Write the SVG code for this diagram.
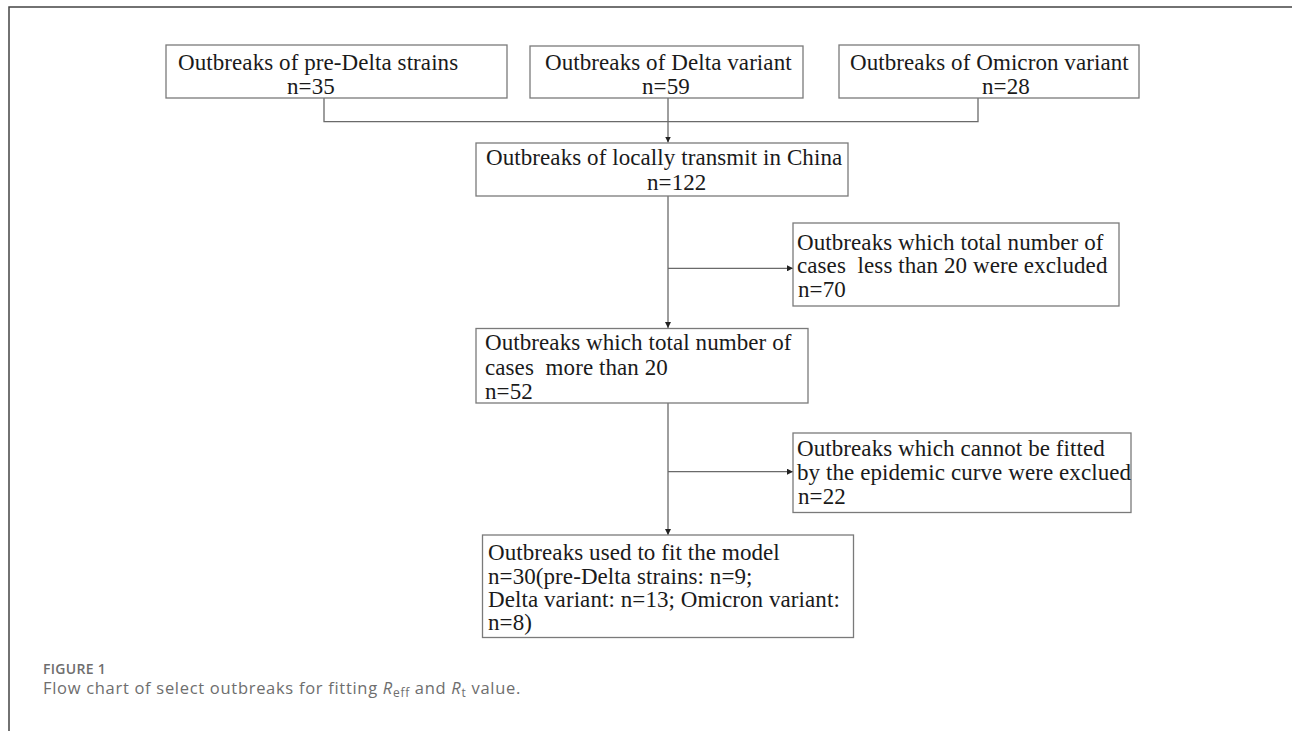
<svg xmlns="http://www.w3.org/2000/svg" width="1292" height="731" viewBox="0 0 1292 731">
<defs>
<style>
.box{fill:#fff;stroke:#7a7a7a;stroke-width:1.3}
.t{font-family:"Liberation Serif","Times New Roman",serif;font-size:23px;letter-spacing:0.08px;fill:#1a1a1a}
.c{fill:none;stroke:#6a6a6a;stroke-width:1.3}
.frame{fill:none;stroke:#444;stroke-width:1.5}
.cap{font-family:"Open Sans","Noto Sans",sans-serif;fill:#6e6e6e}
</style>
<marker id="ah" viewBox="0 0 8 8" refX="8" refY="4" markerWidth="6" markerHeight="6" markerUnits="userSpaceOnUse" orient="auto">
<path d="M0,0 L8,4 L0,8 z" fill="#222"/>
</marker>
</defs>
<rect width="1292" height="731" fill="#fff"/>
<path class="frame" d="M9,731 V7 H1292"/>

<g id="connectors">
<path class="c" d="M324,98 V121.7 H978 V98"/>
<path class="c" d="M668,98 V142.5" marker-end="url(#ah)"/>
<path class="c" d="M668,196 V328" marker-end="url(#ah)"/>
<path class="c" d="M668,268.3 H793" marker-end="url(#ah)"/>
<path class="c" d="M668,403 V535" marker-end="url(#ah)"/>
<path class="c" d="M668,471.7 H793" marker-end="url(#ah)"/>
</g>

<g id="n1">
<rect class="box" x="166" y="45" width="341" height="53"/>
<text class="t" x="178" y="70">Outbreaks of pre-Delta strains</text>
<text class="t" x="287" y="94">n=35</text>
</g>
<g id="n2">
<rect class="box" x="530" y="46" width="273" height="52"/>
<text class="t" x="545" y="70">Outbreaks of Delta variant</text>
<text class="t" x="642" y="94">n=59</text>
</g>
<g id="n3">
<rect class="box" x="839" y="45" width="300" height="53"/>
<text class="t" x="850" y="70">Outbreaks of Omicron variant</text>
<text class="t" x="982" y="94">n=28</text>
</g>
<g id="n4">
<rect class="box" x="476" y="143" width="372" height="53"/>
<text class="t" x="486" y="165">Outbreaks of locally transmit in China</text>
<text class="t" x="647" y="190">n=122</text>
</g>
<g id="n5">
<rect class="box" x="793" y="223" width="326" height="83"/>
<text class="t" x="797" y="249.5">Outbreaks which total number of</text>
<text class="t" x="797" y="273" xml:space="preserve">cases  less than 20 were excluded</text>
<text class="t" x="798" y="297">n=70</text>
</g>
<g id="n6">
<rect class="box" x="476" y="328.5" width="332" height="74.5"/>
<text class="t" x="485" y="350">Outbreaks which total number of</text>
<text class="t" x="485" y="375" xml:space="preserve">cases  more than 20</text>
<text class="t" x="485" y="398.5">n=52</text>
</g>
<g id="n7">
<rect class="box" x="793" y="433" width="338" height="79.5"/>
<text class="t" x="797" y="456">Outbreaks which cannot be fitted</text>
<text class="t" x="797" y="480">by the epidemic curve were exclued</text>
<text class="t" x="798" y="504">n=22</text>
</g>
<g id="n8">
<rect class="box" x="482.5" y="535" width="371" height="102.5"/>
<text class="t" x="488" y="560">Outbreaks used to fit the model</text>
<text class="t" x="488" y="583.5">n=30(pre-Delta strains: n=9;</text>
<text class="t" x="488" y="607">Delta variant: n=13; Omicron variant:</text>
<text class="t" x="488" y="630">n=8)</text>
</g>

<g id="caption">
<text class="cap" x="43" y="674" font-size="14" font-weight="600" letter-spacing="0.3">FIGURE 1</text>
<text class="cap" x="43" y="694" font-size="16.5" letter-spacing="0.7">Flow chart of select outbreaks for fitting <tspan font-style="italic">R</tspan><tspan font-size="12" dy="3">eff</tspan><tspan dy="-3"> and </tspan><tspan font-style="italic">R</tspan><tspan font-size="12" dy="3">t</tspan><tspan dy="-3"> value.</tspan></text>
</g>
</svg>
